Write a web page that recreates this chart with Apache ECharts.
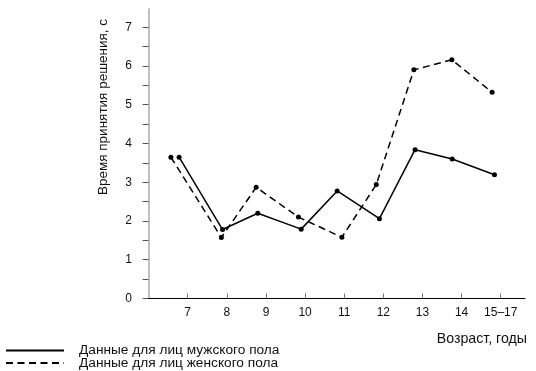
<!DOCTYPE html>
<html>
<head>
<meta charset="utf-8">
<script src="https://cdn.jsdelivr.net/npm/echarts@6/dist/echarts.min.js"></script>
<style>
html,body{margin:0;padding:0;background:#fff;}
#chart{width:536px;height:371px;}
</style>
</head>
<body>
<div id="chart"></div>
<script>
// Category labels (age groups) and tick values
var categories = ['7', '8', '9', '10', '11', '12', '13', '14', '15–17'];
var xTickValues = [1, 2, 3, 4, 5, 6, 7, 8, 9];
var yTickValues = [0, 0.5, 1, 1.5, 2, 2.5, 3, 3.5, 4, 4.5, 5, 5.5, 6, 6.5, 7];
var yLabelValues = [0, 1, 2, 3, 4, 5, 6, 7];

// Male data (solid line): x positions (in age-category units) and decision time, s
var maleX = [0.78, 1.89, 2.79, 3.90, 4.82, 5.90, 6.81, 7.76, 8.84];
var maleY = [3.645, 1.78, 2.20, 1.79, 2.775, 2.06, 3.84, 3.60, 3.195];

// Female data (dashed line)
var femaleX = [0.57, 1.86, 2.75, 3.83, 4.94, 5.82, 6.78, 7.75, 8.78];
var femaleY = [3.645, 1.575, 2.87, 2.10, 1.58, 2.94, 5.90, 6.16, 5.32];

var maleName = 'Данные для лиц мужского пола';
var femaleName = 'Данные для лиц женского пола';
var xName = 'Возраст, годы';
var yName = 'Время принятия решения, с';

function zip(xs, ys) { return xs.map(function (x, i) { return [x, ys[i]]; }); }

var FONT = '"Liberation Sans", Arial, Helvetica, sans-serif';
var chart = echarts.init(document.getElementById('chart'), null, {renderer: 'canvas'});

function legendFor(name, top) {
  return {
    data: [name],
    left: 5,
    top: top,
    padding: 0,
    orient: 'vertical',
    itemWidth: 58,
    itemHeight: 14,
    selectedMode: false,
    itemStyle: {opacity: 0},
    lineStyle: {width: 2},
    textStyle: {fontFamily: FONT, fontSize: 13.7, color: '#111', padding: [0, 0, 0, 10]}
  };
}

chart.setOption({
  animation: false,
  backgroundColor: '#fff',
  textStyle: {fontFamily: FONT},
  grid: {left: 146, right: 11, top: 9, bottom: 72.5, containLabel: false},
  legend: [legendFor(maleName, 343.5), legendFor(femaleName, 356)],
  xAxis: {
    type: 'value',
    min: -0.066,
    max: 9.62,
    splitLine: {show: false},
    axisLine: {show: true, onZero: false, lineStyle: {color: '#000', width: 1.2}},
    axisTick: {show: true, inside: true, length: 5, customValues: xTickValues, lineStyle: {color: '#777', width: 1}},
    axisLabel: {
      show: true, customValues: xTickValues, margin: 8, fontSize: 12, color: '#111', fontFamily: FONT,
      formatter: function (v) { return categories[Math.round(v) - 1] || ''; }
    }
  },
  yAxis: {
    type: 'value',
    min: 0,
    max: 7.47,
    splitLine: {show: false},
    axisLine: {show: true, lineStyle: {color: '#aaa', width: 1.5}},
    axisTick: {show: true, length: 6, customValues: yTickValues, lineStyle: {color: '#555', width: 1}},
    axisLabel: {show: true, customValues: yLabelValues, margin: 14, fontSize: 12, color: '#111', fontFamily: FONT}
  },
  graphic: [
    {
      type: 'text', x: 103, y: 107, rotation: Math.PI / 2,
      style: {text: yName, fontFamily: FONT, fontSize: 13.5, fill: '#111', align: 'center', verticalAlign: 'middle'}
    },
    {
      type: 'text', x: 527, y: 339,
      style: {text: xName, fontFamily: FONT, fontSize: 14.2, fill: '#111', align: 'right', verticalAlign: 'middle'}
    }
  ],
  series: [
    {
      name: maleName, type: 'line', data: zip(maleX, maleY),
      symbol: 'circle', symbolSize: 5,
      itemStyle: {color: '#000'},
      lineStyle: {color: '#000', width: 1.5, type: 'solid'}
    },
    {
      name: femaleName, type: 'line', data: zip(femaleX, femaleY),
      symbol: 'circle', symbolSize: 5,
      itemStyle: {color: '#000'},
      lineStyle: {color: '#000', width: 1.5, type: [7, 4.5]}
    }
  ]
});
</script>
</body>
</html>
